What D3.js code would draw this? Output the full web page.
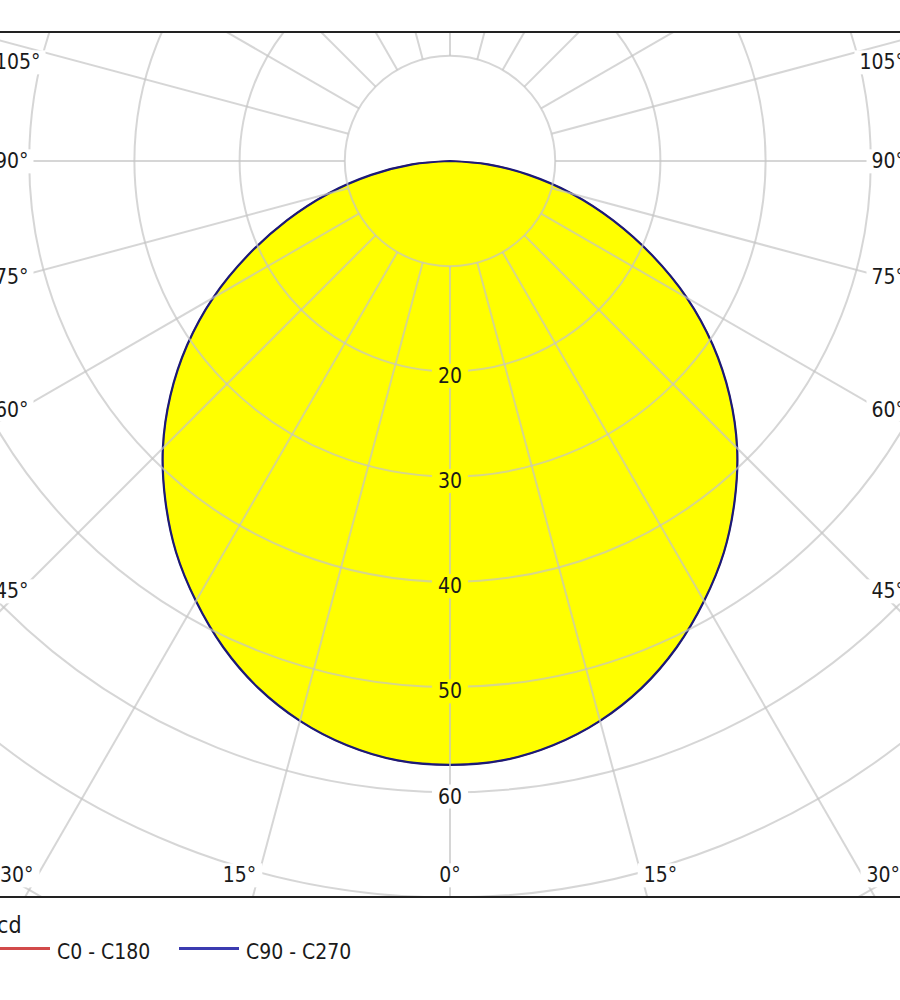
<!DOCTYPE html>
<html>
<head>
<meta charset="utf-8">
<script src="https://cdn.jsdelivr.net/npm/d3@7/dist/d3.min.js"></script>
<style>
  html, body { margin: 0; padding: 0; background: #fff; }
  svg { display: block; }
</style>
</head>
<body>
<svg id="chart" width="900" height="1000"></svg>
<script>
// ---------------- data ----------------
const gammaAngles = [0, 5, 10, 15, 20, 25, 30, 35, 40, 45, 50, 55, 60, 65, 70, 75, 80, 85, 90];
const intensityC0C180  = [57.4, 57.2, 56.4, 55.1, 53.3, 51.0, 48.3, 45.4, 42.1, 38.6, 34.7, 30.5, 26.0, 21.2, 16.5, 12.0, 7.6, 3.6, 0];
const intensityC90C270 = [57.4, 57.2, 56.4, 55.1, 53.3, 51.0, 48.3, 45.4, 42.1, 38.6, 34.7, 30.5, 26.0, 21.2, 16.5, 12.0, 7.6, 3.6, 0];
const ringValues  = [10, 20, 30, 40, 50, 60, 70, 80, 90, 100];
const ringLabels  = [20, 30, 40, 50, 60];
const spokeAngles = [0, 15, 30, 45, 60, 75, 90, 105, 120, 135, 150, 165, 180, 195, 210, 225, 240, 255, 270, 285, 300, 315, 330, 345];
const sideAngleLabels   = [105, 90, 75, 60, 45];
const bottomAngleLabels = [-30, -15, 0, 15, 30];
const unitLabel   = "cd";
const legendNames = ["C0 - C180", "C90 - C270"];
const legendColors = ["#d24a4a", "#3b3bb0"];

// ---------------- layout ----------------
const svg = d3.select("#chart");
const cx = 450, cy = 161;
const frame = { left: -10, right: 910, top: 32, bottom: 897 };
const r = d3.scaleLinear().domain([0, 10]).range([0, 105.2]);
const rad = d => d * Math.PI / 180;
const FONT = "'DejaVu Sans Condensed', 'DejaVu Sans', Verdana, sans-serif";
const textColor = "#1a1a1a";

const defs = svg.append("defs");
defs.append("clipPath").attr("id", "frameClip")
  .append("rect")
  .attr("x", frame.left).attr("y", frame.top)
  .attr("width", frame.right - frame.left).attr("height", frame.bottom - frame.top);

const mask = defs.append("mask").attr("id", "labelMask")
  .attr("maskUnits", "userSpaceOnUse")
  .attr("x", -100).attr("y", -100).attr("width", 1100).attr("height", 1200);
mask.append("rect").attr("x", -100).attr("y", -100).attr("width", 1100).attr("height", 1200).attr("fill", "#fff");

const plot = svg.append("g").attr("clip-path", "url(#frameClip)");

// ---------------- curves ----------------
function curvePoints(vals) {
  const left = gammaAngles.map((g, i) => ({ a: Math.PI + rad(g), v: vals[i] })).reverse();
  const right = gammaAngles.slice(1).map((g, i) => ({ a: Math.PI - rad(g), v: vals[i + 1] }));
  return left.concat(right);
}
const radial = d3.lineRadial()
  .angle(d => d.a)
  .radius(d => r(d.v))
  .curve(d3.curveCatmullRom.alpha(0.5));

const centre = plot.append("g").attr("transform", `translate(${cx},${cy})`);
centre.append("path")
  .attr("d", radial(curvePoints(intensityC90C270)) + "Z")
  .attr("fill", "#ffff00")
  .attr("stroke", "none");

// ---------------- grid (masked around labels) ----------------
const gridOuter = plot.append("g").attr("mask", "url(#labelMask)");
const grid = gridOuter.append("g").attr("transform", `translate(${cx},${cy})`)
  .attr("stroke", "#c4c4c4").attr("stroke-opacity", 0.7).attr("stroke-width", 2).attr("fill", "none");

grid.selectAll("line.spoke").data(spokeAngles).join("line")
  .attr("class", "spoke")
  .attr("x1", d => r(10) * Math.sin(rad(d)))
  .attr("y1", d => r(10) * Math.cos(rad(d)))
  .attr("x2", d => r(100) * Math.sin(rad(d)))
  .attr("y2", d => r(100) * Math.cos(rad(d)));

grid.selectAll("circle.ring").data(ringValues).join("circle")
  .attr("class", "ring")
  .attr("r", d => r(d));

// curves on top
centre.append("path")
  .attr("d", radial(curvePoints(intensityC0C180)) + "Z")
  .attr("fill", "none").attr("stroke", legendColors[0]).attr("stroke-width", 1.4);
centre.append("path")
  .attr("d", radial(curvePoints(intensityC90C270)) + "Z")
  .attr("fill", "none").attr("stroke", "#1a1a78").attr("stroke-width", 2.2);

// ---------------- labels ----------------
const labelG = svg.append("g")
  .attr("font-family", FONT).attr("font-size", 21).attr("fill", textColor);

function addMask(node, px, py) {
  const b = node.getBBox();
  mask.append("rect")
    .attr("x", b.x - px).attr("y", b.y - py)
    .attr("width", b.width + 2 * px).attr("height", b.height + 2 * py)
    .attr("fill", "#000");
}

// ring value labels along 0° spoke
ringLabels.forEach(v => {
  const t = labelG.append("text")
    .attr("x", cx).attr("y", cy + r(v) + 4).attr("dy", "0.35em")
    .attr("text-anchor", "middle").text(v);
  addMask(t.node(), 6, 0);
});

// side angle labels (both sides)
sideAngleLabels.forEach(a => {
  const y = Math.max(cy + 430 / Math.tan(rad(a)), frame.top + 30);
  const tl = labelG.append("text")
    .attr("x", -5).attr("y", y).attr("dy", "0.35em")
    .attr("text-anchor", "start").text(a + "°");
  addMask(tl.node(), 5, 0);
  const tr = labelG.append("text")
    .attr("x", 905).attr("y", y).attr("dy", "0.35em")
    .attr("text-anchor", "end").text(a + "°");
  addMask(tr.node(), 5, 0);
});

// bottom angle labels
bottomAngleLabels.forEach(a => {
  const yb = 875;
  let x = cx + (yb - cy) * Math.tan(rad(a)) * 1.1;
  let anchor = "middle";
  if (x < 40) { x = 0; anchor = "start"; }
  if (x > 860) { x = 900; anchor = "end"; }
  const t = labelG.append("text")
    .attr("x", x).attr("y", yb).attr("dy", "0.35em")
    .attr("text-anchor", anchor).text(Math.abs(a) + "°");
  addMask(t.node(), 6, 0);
});

// ---------------- frame ----------------
svg.append("line").attr("x1", 0).attr("x2", 900).attr("y1", frame.top).attr("y2", frame.top)
  .attr("stroke", "#222").attr("stroke-width", 2);
svg.append("line").attr("x1", 0).attr("x2", 900).attr("y1", frame.bottom).attr("y2", frame.bottom)
  .attr("stroke", "#222").attr("stroke-width", 2);

// ---------------- legend ----------------
const legend = svg.append("g").attr("font-family", FONT).attr("fill", textColor);
legend.append("text").attr("x", -3).attr("y", 933).attr("font-size", 23).text(unitLabel);

const legendX = [-10, 179];
legendNames.forEach((name, i) => {
  legend.append("line")
    .attr("x1", legendX[i]).attr("x2", legendX[i] + 60)
    .attr("y1", 948.5).attr("y2", 948.5)
    .attr("stroke", legendColors[i]).attr("stroke-width", 3);
  legend.append("text")
    .attr("x", legendX[i] + 67).attr("y", 959)
    .attr("font-size", 21).text(name);
});
</script>
</body>
</html>
